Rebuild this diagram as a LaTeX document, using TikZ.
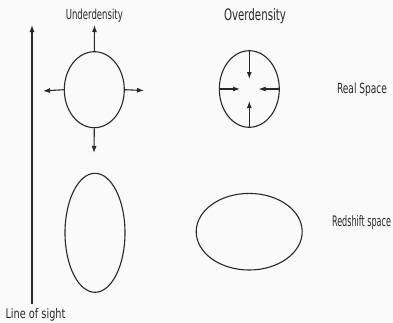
\documentclass[tikz,border=0pt]{standalone}
\usepackage{fontspec}
\setmainfont{DejaVu Sans}
\usetikzlibrary{arrows.meta,shapes.geometric}
\definecolor{bg}{RGB}{250,250,250}
\definecolor{ink}{RGB}{40,40,40}
\newcommand{\fitlbl}[3]{\resizebox{#1pt}{#2pt}{#3}}
\tikzset{
  lbl/.style={anchor=base,inner sep=0pt,text=ink,font=\fontsize{14}{14}\selectfont},
  blob/.style={draw=ink,line width=1.1pt,ellipse,inner sep=0pt},
  arr/.style={draw=ink,line width=1.1pt,-{Latex[length=7pt,width=5pt]}}
}
\begin{document}
\begin{tikzpicture}[x=1pt,y=-1pt]
\fill[bg] (0,0) rectangle (393,322);
\useasboundingbox (0,0) rectangle (393,322);
% labels
\node[lbl] (under) at (94.3,19.8) {\fitlbl{57}{10.5}{Underdensity}};
\node[lbl] (over) at (255,20.2) {\fitlbl{62}{12}{Overdensity}};
\node[lbl] (real) at (362,93) {\fitlbl{50}{10.6}{Real Space}};
\node[lbl] (red) at (361.5,226.5) {\fitlbl{59}{11}{Redshift space}};
\node[lbl] (los) at (35.5,318.5) {\fitlbl{60}{10}{Line of sight}};
% line of sight
\coordinate (losb) at (32,303.5);
\coordinate (lost) at (32,25);
\draw[arr] (losb) -- (lost);
% underdensity circle
\node[blob,minimum width=60pt,minimum height=76pt] (uc) at (94.3,89.7) {};
\coordinate (uu) at (94.5,25);
\coordinate (ud) at (94,153);
\coordinate (ul) at (43,91);
\coordinate (ur) at (144,90.5);
\draw[arr] (uc.north) -- (uu);
\draw[arr] (uc.south) -- (ud);
\draw[arr] (uc.west) -- (ul);
\draw[arr] (uc.east) -- (ur);
% overdensity circle
\node[blob,minimum width=60pt,minimum height=76.6pt] (oc) at (249.3,89) {};
\coordinate (ou) at (249.3,79);
\coordinate (od) at (249.3,101);
\coordinate (ol) at (240,89);
\coordinate (or) at (258.5,89);
\draw[arr] (oc.north) -- (ou);
\draw[arr] (oc.south) -- (od);
\draw[arr] (oc.west) -- (ol);
\draw[arr] (oc.east) -- (or);
% redshift space ellipses
\node[blob,minimum width=60pt,minimum height=119pt] (re1) at (95,232.8) {};
\node[blob,minimum width=106pt,minimum height=76.6pt] (re2) at (249.2,231.7) {};
\end{tikzpicture}
\end{document}
